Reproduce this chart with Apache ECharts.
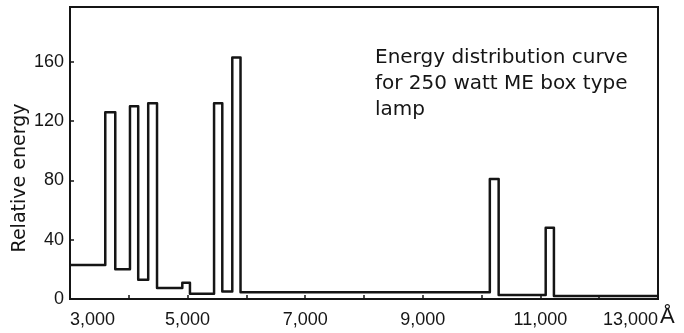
<!DOCTYPE html>
<html>
<head>
<meta charset="utf-8">
<script src="https://cdn.jsdelivr.net/npm/echarts@6/dist/echarts.min.js"></script>
<style>html,body{margin:0;padding:0;background:#fff}#c{width:684px;height:333px}</style>
</head>
<body>
<div id="c"></div>
<script>
// Wavelength boundaries (Å) of each constant-energy step
const edges = [3000, 3600, 3770, 4020, 4160, 4330, 4480, 4910, 5040, 5450, 5590, 5760, 5900, 10140, 10290, 11090, 11230, 13000];
// Relative energy on each step (between consecutive edges)
const levels = [23, 126, 20, 130, 13, 132, 7.5, 11, 3.5, 132, 5, 163, 4.5, 81, 2.7, 48, 2];
// Axis ticks
const yTicks = [0, 40, 80, 120, 160];
const xTickLabels = [3000, 5000, 7000, 9000, 11000, 13000];

const stepData = levels.map((v, i) => [edges[i], v]);
stepData.push([edges[edges.length - 1], levels[levels.length - 1]]);

const ink = '#151515';
const chart = echarts.init(document.getElementById('c'), null, {renderer: 'canvas'});
chart.setOption({
  backgroundColor: '#fff',
  animation: false,
  title: {
    text: 'Energy distribution curve\nfor 250 watt ME box type\nlamp',
    left: 375, top: 45, padding: 0,
    textStyle: {fontFamily: 'DejaVu Sans', fontSize: 20, fontWeight: 'normal', lineHeight: 26, color: ink}
  },
  grid: {left: 70, right: 26, top: 7, bottom: 34, outerBoundsMode: 'none', containLabel: false,
         show: true, borderColor: ink, borderWidth: 2, backgroundColor: 'transparent'},
  xAxis: {
    type: 'value', min: 3000, max: 13000, interval: 1000,
    name: 'Å', nameLocation: 'end', nameGap: 2, nameMoveOverlap: false,
    nameTextStyle: {fontFamily: 'Liberation Sans', fontSize: 22, color: ink, align: 'left', verticalAlign: 'top', padding: [7, 0, 0, 0]},
    axisLine: {show: true, lineStyle: {color: ink, width: 2}},
    axisTick: {show: true, inside: true, length: 4, lineStyle: {color: ink, width: 1.5}},
    splitLine: {show: false},
    axisLabel: {
      margin: 12, fontFamily: 'Liberation Sans', fontSize: 18, color: ink,
      alignMinLabel: 'left', alignMaxLabel: 'right', hideOverlap: false,
      formatter: v => xTickLabels.includes(v) ? v.toLocaleString('en-US') : ''
    }
  },
  yAxis: {
    type: 'value', min: 0, max: 197, interval: 40,
    name: 'Relative energy', nameLocation: 'middle', nameGap: 40, nameRotate: 90, nameMoveOverlap: false,
    nameTextStyle: {fontFamily: 'DejaVu Sans', fontSize: 19, color: ink, padding: [0, 50, 0, 0]},
    axisLine: {show: true, lineStyle: {color: ink, width: 2}},
    axisTick: {show: true, inside: true, length: 4, lineStyle: {color: ink, width: 1.5}},
    splitLine: {show: false},
    axisLabel: {
      margin: 6, fontFamily: 'Liberation Sans', fontSize: 18, color: ink,
      formatter: v => yTicks.includes(v) ? String(v) : ''
    }
  },
  series: [{
    type: 'line', step: 'end', data: stepData, showSymbol: false, symbol: 'none',
    lineStyle: {color: ink, width: 2.5, join: 'round'}
  }]
});
</script>
</body>
</html>
